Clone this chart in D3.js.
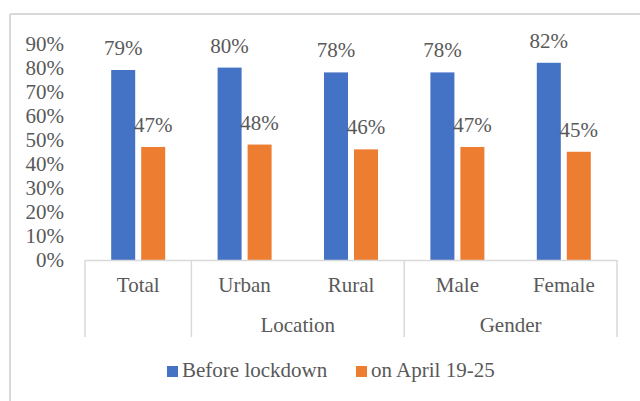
<!DOCTYPE html>
<html><head><meta charset="utf-8">
<script src="https://cdn.jsdelivr.net/npm/d3@7"></script>
<style>body{margin:0;background:#fff}svg{display:block}text{font-family:"Liberation Serif","Times New Roman",serif;fill:#595959}</style>
</head><body>
<svg id="c" width="640" height="401"></svg>
<script>
const categories = ["Total","Urban","Rural","Male","Female"];
const groups = [{name:"",span:["Total"]},{name:"Location",span:["Urban","Rural"]},{name:"Gender",span:["Male","Female"]}];
const seriesNames = ["Before lockdown","on April 19-25"];
const beforeLockdown = [0.79,0.80,0.78,0.78,0.82];
const april = [0.47,0.48,0.46,0.47,0.45];
const yTicks = [0,0.1,0.2,0.3,0.4,0.5,0.6,0.7,0.8,0.9];
const colors = ["#4472C4","#ED7D31"];
const FS = 21;

const svg = d3.select("#c");
svg.append("line").attr("x1",10).attr("x2",640).attr("y1",14).attr("y2",14).attr("stroke","#d9d9d9").attr("stroke-width",2);
svg.append("line").attr("x1",10).attr("x2",10).attr("y1",14).attr("y2",401).attr("stroke","#d9d9d9").attr("stroke-width",2);

const x0 = d3.scaleBand().domain(categories).range([85,617]).paddingInner(0).paddingOuter(0);
const x1 = d3.scaleBand().domain(seriesNames).range([x0.bandwidth()/2-27, x0.bandwidth()/2+27]).paddingInner(0.2);
const y = d3.scaleLinear().domain([0,1]).range([260,19.5]);

const yAxis = d3.axisLeft(y).tickValues(yTicks).tickFormat(d3.format(".0%")).tickSize(0).tickPadding(0);
const ya = svg.append("g").attr("transform","translate(64,0)").call(yAxis);
ya.select(".domain").remove();
ya.attr("font-family",null);
ya.selectAll("text").attr("font-size",FS).attr("fill","#595959").attr("dy","0.32em");

const series = [beforeLockdown, april];
series.forEach((vals,si)=>{
  const g = svg.append("g");
  g.selectAll("rect").data(vals).join("rect")
    .attr("x",(d,i)=>x0(categories[i])+x1(seriesNames[si]))
    .attr("width",x1.bandwidth())
    .attr("y",d=>y(d)).attr("height",d=>y(0)-y(d))
    .attr("fill",colors[si]);
  g.selectAll("text").data(vals).join("text")
    .attr("x",(d,i)=>x0(categories[i])+x1(seriesNames[si])+x1.bandwidth()/2)
    .attr("y",d=>y(d)-15)
    .attr("text-anchor","middle").attr("font-size",FS)
    .text(d=>Math.round(d*100)+"%");
});

const axisColor = "#d9d9d9";
svg.append("line").attr("x1",85).attr("x2",617).attr("y1",y(0)+0.5).attr("y2",y(0)+0.5).attr("stroke",axisColor).attr("stroke-width",1.5);
svg.append("g").selectAll("text").data(categories).join("text")
  .attr("x",d=>x0(d)+x0.bandwidth()/2).attr("y",292)
  .attr("text-anchor","middle").attr("font-size",FS).text(d=>d);
const seps = [];
groups.forEach(gr=>{ seps.push(x0(gr.span[0])); });
seps.push(x0(categories[categories.length-1])+x0.bandwidth());
svg.append("g").selectAll("line").data(seps).join("line")
  .attr("x1",d=>d).attr("x2",d=>d).attr("y1",y(0)).attr("y2",337)
  .attr("stroke",axisColor).attr("stroke-width",1.5);
svg.append("g").selectAll("text").data(groups.filter(g=>g.name)).join("text")
  .attr("x",d=>(x0(d.span[0])+x0(d.span[d.span.length-1])+x0.bandwidth())/2).attr("y",332)
  .attr("text-anchor","middle").attr("font-size",FS).text(d=>d.name);

const legendX = [167,356];
const lg = svg.append("g");
seriesNames.forEach((n,i)=>{
  lg.append("rect").attr("x",legendX[i]).attr("y",366).attr("width",11).attr("height",11).attr("fill",colors[i]);
  lg.append("text").attr("x",legendX[i]+15).attr("y",377).attr("font-size",FS).text(n);
});
</script>
</body></html>
